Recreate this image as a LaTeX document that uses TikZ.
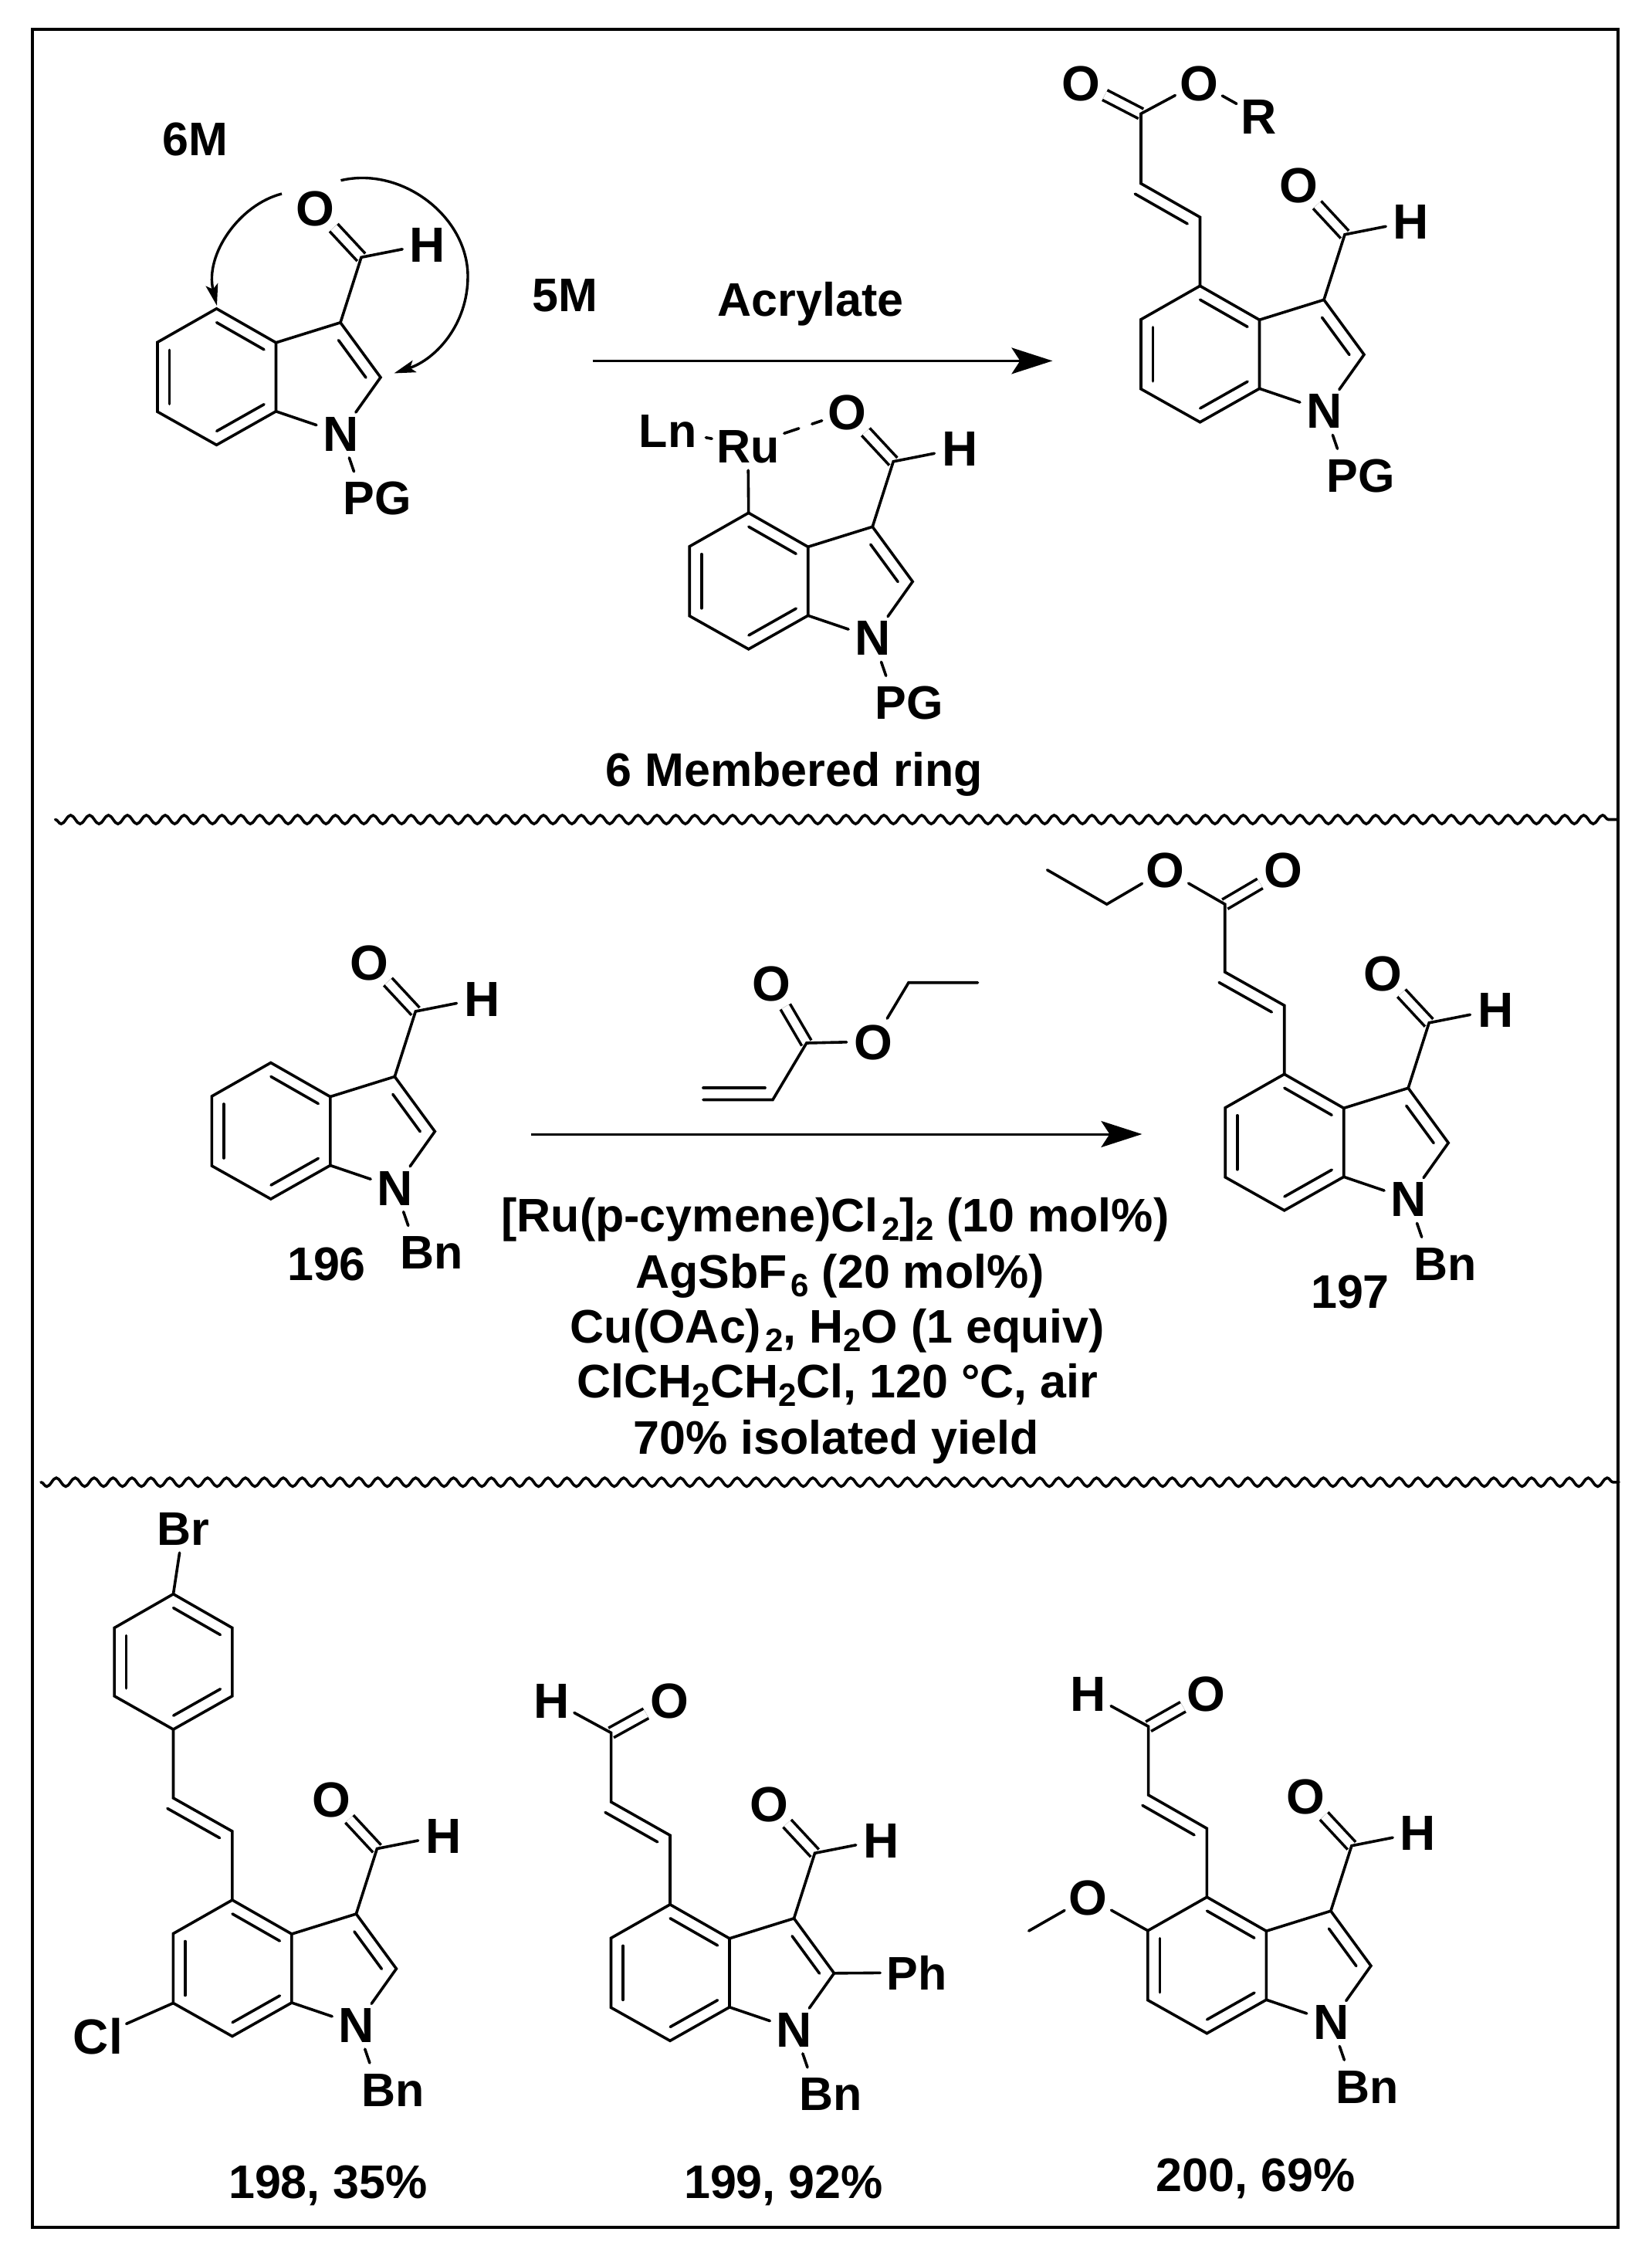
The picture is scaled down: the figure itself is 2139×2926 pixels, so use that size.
\documentclass[tikz,border=0pt]{standalone}
\usepackage{fontspec}
\setmainfont{Liberation Sans}
\usetikzlibrary{calc,arrows.meta,decorations.pathmorphing}
\tikzset{
 x=1pt,y=-1pt,
 bond/.style={line width=3.6pt,line join=miter,line cap=round,black},
 dbl/.style={line width=3.6pt,double,double distance=10.5pt,black},
 atom/.style={circle,inner sep=0.5pt,text height=46pt,text depth=0pt,font=\fontsize{64}{64}\selectfont\bfseries},
 lbl/.style={rectangle,inner sep=0pt,text height=44pt,text depth=0pt,font=\fontsize{61}{61}\selectfont\bfseries},
 cond/.style={anchor=base,inner sep=0pt,font=\fontsize{61}{61}\selectfont\bfseries},
 rxn/.style={line width=3pt,-{Stealth[length=53pt,width=34pt,inset=11pt]}},
 curly/.style={line width=3.4pt,-{Stealth[length=28pt,width=16pt,inset=6pt]}},
 wave/.style={line width=3.6pt,line cap=round,decorate,decoration={snake,segment length=24.5pt,amplitude=5.6pt,mirror}},
 frame/.style={line width=4pt,line join=miter}
}
\newcommand{\ilin}[4]{\draw[bond] ($(#1)!#3pt!(#2)!15.5pt!90:(#2)$) -- ($(#2)!#4pt!(#1)!15.5pt!-90:(#1)$);}
\newcommand{\sbs}[1]{\raisebox{-11pt}{\fontsize{42}{42}\selectfont #1}}
\newcommand{\indole}[4]{%
 \begin{scope}[shift={(#2,#3)}]
  \coordinate (#1c4) at (0,0);
  \coordinate (#1c5) at (-76.5,43.5);
  \coordinate (#1c6) at (-76.5,133.5);
  \coordinate (#1c7) at (0,176.5);
  \coordinate (#1c7a) at (77,133);
  \coordinate (#1c3a) at (77,44);
  \coordinate (#1c3) at (160.5,18);
  \coordinate (#1c2) at (212.5,89);
  \coordinate (#1cho) at (187.5,-66.5);
  \coordinate (#1e) at (178,211);
  \node[atom] (#1n) at (161,161.5) {N};
  \node[atom] (#1o) at (128,-130.5) {O};
  \node[atom] (#1h) at (273.5,-83.5) {H};
  \node[lbl] (#1s) at (208,245) {#4};
 \end{scope}
 \draw[dbl] (#1cho) -- (#1o);
 \draw[bond] (#1c4) -- (#1c5) -- (#1c6) -- (#1c7) -- (#1c7a) -- (#1c3a) -- cycle;
 \draw[bond] (#1c3a) -- (#1c3) -- (#1c2) -- (#1n);
 \draw[bond] (#1c7a) -- (#1n);
 \draw[bond] (#1c3) -- (#1cho) -- (#1h);
 \draw[bond] (#1n) -- (#1e);
 \ilin{#1c5}{#1c6}{10}{10}
 \ilin{#1c7}{#1c7a}{9}{9}
 \ilin{#1c3a}{#1c4}{9}{9}
 \ilin{#1c2}{#1c3}{11}{17}
}
\begin{document}
\begin{tikzpicture}
\useasboundingbox (0,0) rectangle (2139,2926);
\fill[white] (0,0) rectangle (2139,2926);
% frame
\coordinate (ftl) at (42.3,38.2);
\coordinate (fbr) at (2095.7,2884.7);
\draw[frame] (ftl) rectangle (fbr);
% wavy separators
\coordinate (w1a) at (71.6,1061.5);
\coordinate (w1b) at (2095,1061.5);
\coordinate (w2a) at (53,1919.8);
\coordinate (w2b) at (2097,1919.8);
\draw[wave] (w1a) -- (w1b);
\draw[wave] (w2a) -- (w2b);

% ---- top left
\indole{a}{280.5}{399.8}{PG}
\node[lbl] (l6m) at (252.5,179.5) {6M};
\node[lbl] (l5m) at (732,381) {5M};
\coordinate (ca1) at (365,251);
\coordinate (ca2) at (441.5,233.7);
\coordinate (ca3) at (606,358);
\coordinate (ca4) at (510.4,483.5);
\coordinate (ca5) at (281,396);
\draw[curly] (ca1) .. controls (310,265) and (265,330) .. (ca5);
\draw[curly] (ca2) .. controls (520,215) and (606,280) .. (ca3) .. controls (606,420) and (565,465) .. (ca4);

% ---- arrow 1
\coordinate (ar1a) at (767.7,467.4);
\coordinate (ar1b) at (1363.4,467.4);
\draw[rxn] (ar1a) -- (ar1b);
\node[lbl] (acr) at (1050,387) {Acrylate};

% ---- Ru intermediate
\indole{d}{969.7}{664.3}{PG}
\node[lbl,inner xsep=6pt,inner ysep=10pt] (ru) at (969,577) {Ru};
\node[lbl,inner xsep=12pt] (ln) at (865,557.5) {Ln};
\draw[bond] (ln) -- (ru);
\draw[bond] (ru) -- (dc4);
\draw[bond,dash pattern=on 20pt off 18pt] (ru) -- (do);
\node[lbl] (ring) at (1029,996) {6 Membered ring};

% ---- top right product
\indole{b}{1554.5}{370.3}{PG}
\coordinate (bca) at (1554.5,281.3);
\coordinate (bcb) at (1478,237.7);
\coordinate (bcc) at (1478,147.3);
\node[atom] (bo1) at (1400.3,107.1) {O};
\node[atom] (bo2) at (1553,107.1) {O};
\node[atom] (br) at (1631,150.7) {R};
\draw[dbl] (bcc) -- (bo1);
\draw[bond] (bc4) -- (bca) -- (bcb) -- (bcc) -- (bo2);
\draw[bond] (bo2) -- (br);
\ilin{bca}{bcb}{10}{0}

% ---- 196
\indole{c}{350.8}{1376.5}{Bn}
\node[lbl] (n196) at (423,1636.8) {196};

% ---- acrylate reagent
\node[atom] (ro1) at (999.7,1273.9) {O};
\coordinate (rc) at (1044.8,1351);
\node[atom] (ro2) at (1131.4,1349) {O};
\coordinate (rch2) at (1177,1272.7);
\coordinate (rch3) at (1266.5,1272.7);
\coordinate (rch) at (1001,1424.5);
\coordinate (rv) at (911,1424.5);
\draw[dbl] (rc) -- (ro1);
\draw[bond] (rv) -- (rch) -- (rc) -- (ro2);
\draw[bond] (ro2) -- (rch2) -- (rch3);
\ilin{rv}{rch}{0}{10}

% ---- arrow 2
\coordinate (ar2a) at (688,1469);
\coordinate (ar2b) at (1479.4,1469);
\draw[rxn] (ar2a) -- (ar2b);

% ---- conditions
\node[cond] (k1) at (1082,1595) {[Ru(p-cymene)Cl\kern5pt\sbs{2}]\sbs{2} (10 mol\%)};
\node[cond] (k2) at (1088,1668) {AgSbF\kern5pt\sbs{6} (20 mol\%)};
\node[cond] (k3) at (1085,1739.5) {Cu(OAc)\kern5pt\sbs{2}, H\sbs{2}O (1 equiv)};
\node[cond] (k4) at (1085,1810.6) {ClCH\sbs{2}CH\sbs{2}Cl, 120 °C, air};
\node[cond] (k5) at (1083,1883) {70\% isolated yield};

% ---- 197
\indole{e}{1663.7}{1391.3}{Bn}
\coordinate (eca) at (1663.7,1302.3);
\coordinate (ecb) at (1586.7,1259);
\coordinate (ecc) at (1586.7,1171.2);
\node[atom] (eo1) at (1662.3,1126.8) {O};
\node[atom] (eo2) at (1509.5,1126.8) {O};
\coordinate (ech2) at (1433.7,1171.2);
\coordinate (ech3) at (1356.6,1126.8);
\draw[dbl] (ecc) -- (eo1);
\draw[bond] (ec4) -- (eca) -- (ecb) -- (ecc) -- (eo2);
\draw[bond] (eo2) -- (ech2) -- (ech3);
\ilin{eca}{ecb}{10}{0}
\node[lbl] (n197) at (1749,1672.4) {197};

% ---- 198
\indole{f}{300.9}{2461}{Bn}
\coordinate (fca) at (300.9,2372);
\coordinate (fcb) at (224.5,2328.9);
\coordinate (pb) at (224.5,2240);
\coordinate (plr) at (300.9,2196.8);
\coordinate (pur) at (300.9,2108.5);
\coordinate (pt) at (224.5,2064.7);
\coordinate (pul) at (148.1,2108.5);
\coordinate (pll) at (148.1,2196.8);
\node[lbl,inner ysep=10pt] (fbr2) at (237.5,1979) {Br};
\node[atom] (fcl) at (126.9,2637.6) {Cl};
\draw[bond] (fc4) -- (fca) -- (fcb) -- (pb);
\draw[bond] (pt) -- (pul) -- (pll) -- (pb) -- (plr) -- (pur) -- cycle;
\draw[bond] (pt) -- (fbr2);
\draw[bond] (fc6) -- (fcl);
\ilin{fca}{fcb}{10}{0}
\ilin{pul}{pll}{10}{10}
\ilin{pb}{plr}{9}{9}
\ilin{pur}{pt}{9}{9}
\node[lbl] (n198) at (425,2825) {198, 35\%};

% ---- 199
\indole{g}{868}{2466.8}{Bn}
\coordinate (gca) at (868,2377.2);
\coordinate (gcb) at (791.6,2334);
\coordinate (gcc) at (791.6,2244.4);
\node[atom] (gh2) at (714.5,2202.5) {H};
\node[atom] (go2) at (867.3,2202.5) {O};
\node[lbl,inner xsep=8pt] (gph) at (1187.4,2555) {Ph};
\draw[dbl] (gcc) -- (go2);
\draw[bond] (gc4) -- (gca) -- (gcb) -- (gcc) -- (gh2);
\draw[bond] (gc2) -- (gph);
\ilin{gca}{gcb}{10}{0}
\node[lbl] (n199) at (1015,2825) {199, 92\%};

% ---- 200
\indole{h}{1563.4}{2457.2}{Bn}
\coordinate (hca) at (1563.4,2368.3);
\coordinate (hcb) at (1487.6,2325);
\coordinate (hcc) at (1487.6,2236.2);
\node[atom] (hh2) at (1409.8,2193.6) {H};
\node[atom] (ho2) at (1562.7,2193.6) {O};
\node[atom] (home) at (1409.2,2457.2) {O};
\coordinate (hme) at (1332.7,2501);
\draw[dbl] (hcc) -- (ho2);
\draw[bond] (hc4) -- (hca) -- (hcb) -- (hcc) -- (hh2);
\draw[bond] (hc5) -- (home) -- (hme);
\ilin{hca}{hcb}{10}{0}
\node[lbl] (n200) at (1626.6,2816) {200, 69\%};
\end{tikzpicture}
\end{document}
